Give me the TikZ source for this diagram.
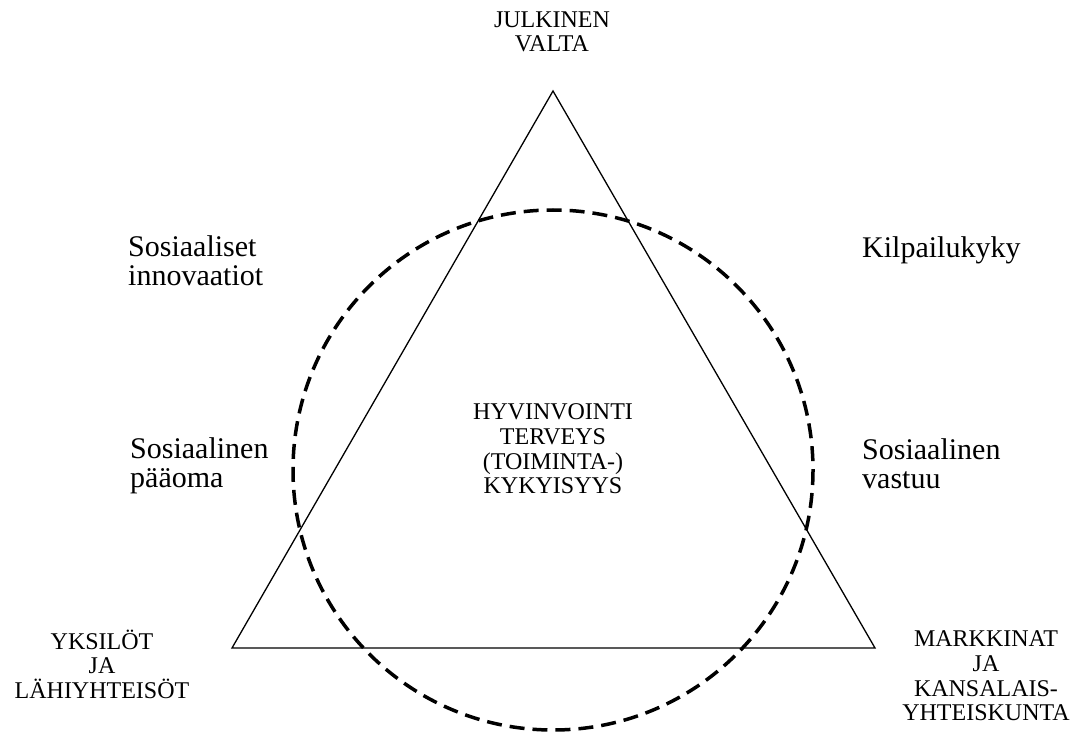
\documentclass[tikz,border=0pt]{standalone}
\usepackage{fontspec}
\setmainfont{Liberation Serif}
\tikzset{
  caps/.style={font=\fontsize{24}{24.6}\selectfont,align=center,inner sep=0pt},
  words/.style={font=\fontsize{30}{29}\selectfont,align=left,inner sep=0pt,anchor=west},
  katkoviiva/.style={dashed,dash pattern=on 15pt off 8pt,line width=3.5pt}
}
\begin{document}
\begin{tikzpicture}[x=1pt,y=-1pt]
    \useasboundingbox (0,0) rectangle (1070,735);
    % Kolmion karjet ja ympyran keskipiste.
    \coordinate (ylä) at (553,91);
    \coordinate (vasen) at (232,648);
    \coordinate (oikea) at (875,648);
    \coordinate (keski) at (553,470);
    \draw[line width=1.3pt,line join=miter] (ylä) -- (vasen) -- (oikea) -- cycle; %kolmio
    \draw[katkoviiva] (keski) circle (260); %ympyra
    \node[caps] (julkinen) at (552,32) {JULKINEN\\VALTA};
    \node[caps] (hyvinvointi) at (553,449) {HYVINVOINTI\\TERVEYS\\(TOIMINTA-)\\KYKYISYYS};
    \node[caps] (yksilot) at (102,664) {YKSILÖT\\JA\\LÄHIYHTEISÖT};
    \node[caps] (markkinat) at (986,676) {MARKKINAT\\JA\\KANSALAIS-\\YHTEISKUNTA};
    \node[words] (innovaatiot) at (128,261) {Sosiaaliset\\innovaatiot};
    \node[words] (paaoma) at (130,466) {Sosiaalinen\\pääoma};
    \node[words] (kilpailukyky) at (862,250) {Kilpailukyky};
    \node[words] (vastuu) at (862,464) {Sosiaalinen\\vastuu};
\end{tikzpicture}
\end{document}
